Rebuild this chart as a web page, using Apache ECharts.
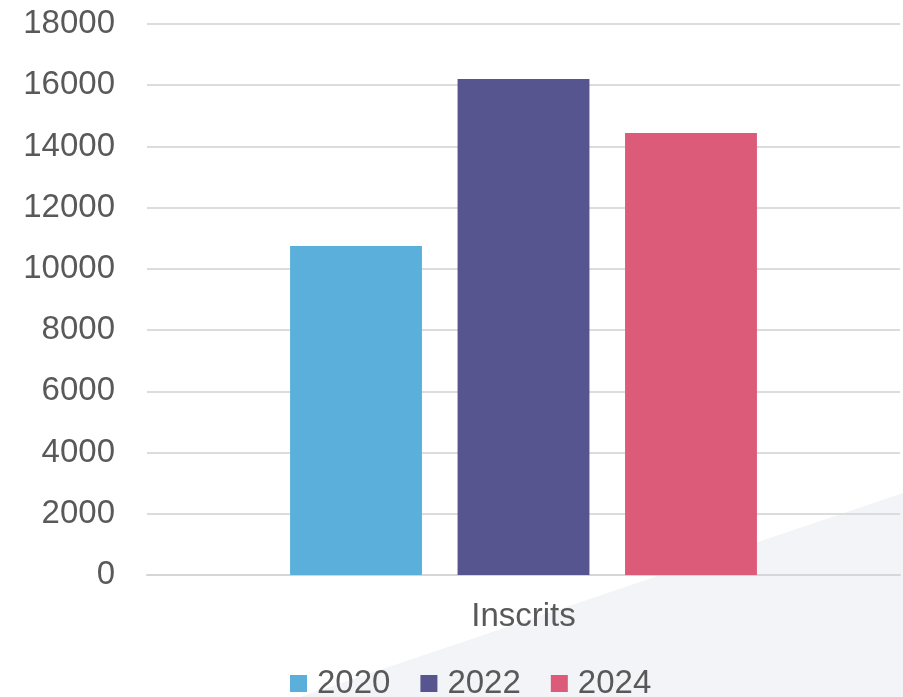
<!DOCTYPE html>
<html>
<head>
<meta charset="utf-8">
<script src="https://cdn.jsdelivr.net/npm/echarts@6/dist/echarts.min.js"></script>
<style>html,body{margin:0;padding:0;background:#fff}#c{width:903px;height:697px}</style>
</head>
<body>
<div id="c"></div>
<script>
const categories = ['Inscrits'];
const seriesNames = ['2020', '2022', '2024'];
const values2020 = [10750];
const values2022 = [16200];
const values2024 = [14440];
const colors = ['#5ab0db', '#575590', '#dc5b79'];

const chart = echarts.init(document.getElementById('c'));
const font = 'Liberation Sans, Arial, sans-serif';
const allValues = [values2020, values2022, values2024];
chart.setOption({
  animation: false,
  graphic: [{
    type: 'polygon',
    z: -10,
    silent: true,
    shape: { points: [[300, 697], [903, 493], [903, 697]] },
    style: { fill: '#f3f4f8' }
  }],
  grid: { left: 147, right: 3, top: 24, bottom: 122, containLabel: false },
  legend: {
    data: seriesNames,
    top: 667,
    left: 290,
    padding: 0,
    icon: 'rect',
    itemWidth: 17,
    itemHeight: 17,
    itemGap: 30,
    textStyle: { fontSize: 33, color: '#595959', fontFamily: font, padding: [0, 0, 0, 5] }
  },
  xAxis: {
    type: 'category',
    data: categories,
    axisTick: { show: false },
    axisLine: { lineStyle: { color: '#d6d6d6', width: 2 } },
    axisLabel: { fontSize: 33, color: '#595959', fontFamily: font, margin: 25 }
  },
  yAxis: {
    type: 'value',
    min: 0,
    max: 18000,
    interval: 2000,
    axisLine: { show: false },
    axisTick: { show: false },
    splitLine: { lineStyle: { color: '#dcdcdc', width: 2 } },
    axisLabel: { fontSize: 33, color: '#595959', fontFamily: font, margin: 32, formatter: v => String(v) }
  },
  series: seriesNames.map((n, i) => ({
    name: n,
    type: 'bar',
    data: allValues[i],
    itemStyle: { color: colors[i] },
    barGap: '27%',
    barCategoryGap: '38%'
  }))
});
</script>
</body>
</html>
